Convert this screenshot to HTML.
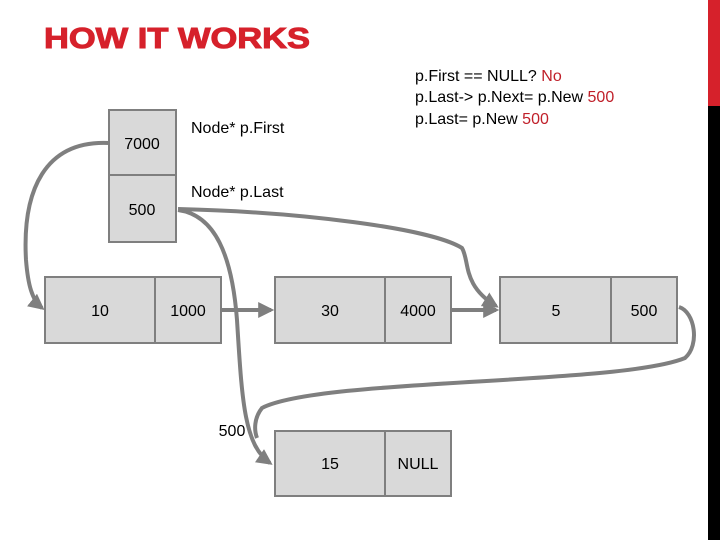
<!DOCTYPE html>
<html><head><meta charset="utf-8"><style>
body{margin:0;width:720px;height:540px;background:#fff;position:relative;overflow:hidden;font-family:"Liberation Sans",Arial,sans-serif}
</style></head><body>
<svg width="720" height="540" viewBox="0 0 720 540" style="position:absolute;left:0;top:0">
<defs><marker id="a" markerWidth="4" markerHeight="4" refX="3.2" refY="2" orient="auto" markerUnits="strokeWidth"><path d="M0,0 L4,2 L0,4 Z" fill="#7f7f7f"/></marker></defs>
<rect x="708" y="0" width="12" height="106" fill="#d6212b"/>
<rect x="708" y="106" width="12" height="434" fill="#000"/>
<text x="44" y="48" font-family="Liberation Sans,Arial,sans-serif" font-weight="bold" font-size="29" fill="#d6212b" stroke="#d6212b" stroke-width="1" textLength="266" lengthAdjust="spacingAndGlyphs">HOW IT WORKS</text>
<g fill="#d9d9d9" stroke="#7f7f7f" stroke-width="2">
<rect x="109" y="110" width="67" height="65"/><rect x="109" y="175" width="67" height="67"/>
<rect x="45" y="277" width="110" height="66"/><rect x="155" y="277" width="66" height="66"/>
<rect x="275" y="277" width="110" height="66"/><rect x="385" y="277" width="66" height="66"/>
<rect x="500" y="277" width="111" height="66"/><rect x="611" y="277" width="66" height="66"/>
<rect x="275" y="431" width="110" height="65"/><rect x="385" y="431" width="66" height="65"/>
</g>
<g fill="none" stroke="#7f7f7f" stroke-width="4">
<path d="M109,143 C45,140 22,190 26,260 C28,285 32,300 42,308" marker-end="url(#a)"/>
<path d="M178,210 C215,215 232,255 237,320 C242,400 244,445 270,463" marker-end="url(#a)"/>
<path d="M178,209 C300,212 430,228 462,248 C470,262 462,285 496,306" marker-end="url(#a)"/>
<path d="M221,310 L271,310" marker-end="url(#a)"/>
<path d="M451,310 L496,310" marker-end="url(#a)"/>
<path d="M679,307 C695,312 700,345 685,358 C620,385 320,378 262,408 C254,418 254,430 257,438"/>
</g>
<g font-size="16" fill="#000" text-anchor="middle">
<text x="142" y="149">7000</text><text x="142" y="215">500</text>
<text x="100" y="316">10</text><text x="188" y="316">1000</text>
<text x="330" y="316">30</text><text x="418" y="316">4000</text>
<text x="556" y="316">5</text><text x="644" y="316">500</text>
<text x="330" y="469">15</text><text x="418" y="469">NULL</text>
<text x="232" y="436">500</text>
</g>
<g font-size="16" fill="#000">
<text x="191" y="133">Node* p.First</text>
<text x="191" y="197">Node* p.Last</text>
<text x="415" y="81">p.First == NULL? <tspan fill="#c0202a">No</tspan></text>
<text x="415" y="102">p.Last-&gt; p.Next= p.New <tspan fill="#c0202a">500</tspan></text>
<text x="415" y="124">p.Last= p.New <tspan fill="#c0202a">500</tspan></text>
</g>
</svg>
</body></html>
